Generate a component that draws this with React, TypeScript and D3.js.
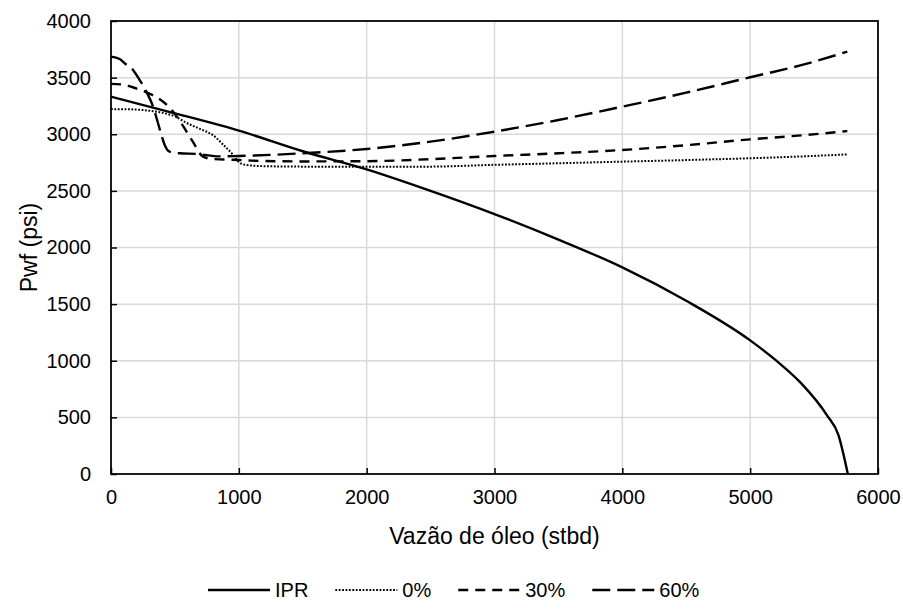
import { useEffect, useRef } from "react";
import * as d3 from "d3";

// IPR curve
const iprQ = [0, 500, 1000, 1500, 2000, 2500, 3000, 3500, 4000, 4500, 5000, 5200, 5400, 5600, 5690, 5764];
const iprP = [3332, 3185, 3032, 2850, 2690, 2500, 2295, 2070, 1825, 1530, 1180, 1005, 800, 520, 346, 0];

// TPR 0%
const tpr0Q = [0, 150, 300, 400, 500, 600, 700, 800, 880, 950, 1000, 1060, 1200, 1500, 2000, 2500, 3000, 3500, 4000, 4500, 5000, 5400, 5760];
const tpr0P = [3222, 3220, 3208, 3190, 3158, 3095, 3045, 2990, 2905, 2825, 2755, 2728, 2718, 2714, 2712, 2714, 2730, 2744, 2758, 2772, 2788, 2804, 2822];

// TPR 30%
const tpr30Q = [0, 100, 170, 290, 370, 485, 550, 640, 720, 800, 1000, 1100, 1500, 2000, 2500, 3000, 3500, 4000, 4500, 5000, 5400, 5760];
const tpr30P = [3445, 3437, 3415, 3364, 3318, 3200, 3097, 2935, 2802, 2781, 2773, 2767, 2760, 2762, 2780, 2808, 2832, 2861, 2903, 2955, 2990, 3028];

// TPR 60%
const tpr60Q = [0, 68, 107, 172, 224, 277, 329, 368, 394, 420, 459, 537, 670, 850, 1000, 1500, 2000, 2500, 3000, 3500, 4000, 4500, 5000, 5400, 5760];
const tpr60P = [3685, 3664, 3627, 3567, 3479, 3376, 3244, 3097, 2993, 2905, 2846, 2832, 2826, 2805, 2808, 2832, 2870, 2935, 3023, 3126, 3244, 3367, 3503, 3610, 3729];

const xTicks = [0, 1000, 2000, 3000, 4000, 5000, 6000];
const yTicks = [0, 500, 1000, 1500, 2000, 2500, 3000, 3500, 4000];
const seriesNames = ["IPR", "0%", "30%", "60%"];

const App = () => {
  const svgRef = useRef(null);

  useEffect(() => {
    const W = 903,
      H = 610;
    const margin = { top: 21, right: 25, bottom: 136, left: 111 };
    const width = W - margin.left - margin.right;
    const height = H - margin.top - margin.bottom;
    const font = "Arial, 'Liberation Sans', sans-serif";

    const svg = d3.select(svgRef.current);
    svg.selectAll("*").remove();

    const x = d3.scaleLinear().domain([0, 6000]).range([0, width]);
    const y = d3.scaleLinear().domain([0, 4000]).range([height, 0]);

    const g = svg.append("g").attr("transform", `translate(${margin.left},${margin.top})`);

    // gridlines
    g.append("g")
      .selectAll("line")
      .data(xTicks)
      .enter()
      .append("line")
      .attr("x1", (d) => x(d))
      .attr("x2", (d) => x(d))
      .attr("y1", 0)
      .attr("y2", height)
      .attr("stroke", "#d9d9d9")
      .attr("stroke-width", 1.5);

    g.append("g")
      .selectAll("line")
      .data(yTicks)
      .enter()
      .append("line")
      .attr("x1", 0)
      .attr("x2", width)
      .attr("y1", (d) => y(d))
      .attr("y2", (d) => y(d))
      .attr("stroke", "#d9d9d9")
      .attr("stroke-width", 1.5);

    // axes (ticks inside)
    const xAxis = g
      .append("g")
      .attr("transform", `translate(0,${height})`)
      .call(d3.axisBottom(x).tickValues(xTicks).tickFormat(d3.format("d")).tickSizeInner(-6).tickSizeOuter(0).tickPadding(16));
    const yAxis = g
      .append("g")
      .call(d3.axisLeft(y).tickValues(yTicks).tickFormat(d3.format("d")).tickSizeInner(-6).tickSizeOuter(0).tickPadding(20));

    [xAxis, yAxis].forEach((a) => {
      a.select(".domain").remove();
      a.selectAll(".tick line").attr("stroke", "#000").attr("stroke-width", 1.5);
      a.selectAll(".tick text").attr("font-family", font).attr("font-size", 20).attr("fill", "#000");
    });

    // frame
    g.append("rect")
      .attr("x", 0)
      .attr("y", 0)
      .attr("width", width)
      .attr("height", height)
      .attr("fill", "none")
      .attr("stroke", "#000")
      .attr("stroke-width", 1.75);

    const styles = [
      { dash: null, w: 2.4 },
      { dash: "1.8,1.6", w: 2 },
      { dash: "10,7", w: 2.4 },
      { dash: "18,7", w: 2.4 },
    ];

    const series = [
      [iprQ, iprP],
      [tpr0Q, tpr0P],
      [tpr30Q, tpr30P],
      [tpr60Q, tpr60P],
    ];

    const line = d3
      .line()
      .x((d) => x(d[0]))
      .y((d) => y(d[1]))
      .curve(d3.curveMonotoneX);

    series.forEach(([qs, ps], i) => {
      const pts = qs.map((q, j) => [q, ps[j]]);
      g.append("path")
        .datum(pts)
        .attr("fill", "none")
        .attr("stroke", "#000")
        .attr("stroke-width", styles[i].w)
        .attr("stroke-dasharray", styles[i].dash)
        .attr("d", line);
    });

    // axis titles
    svg.append("text")
      .attr("x", margin.left + width / 2)
      .attr("y", 544)
      .attr("text-anchor", "middle")
      .attr("font-family", font)
      .attr("font-size", 23)
      .text("Vazão de óleo (stbd)");

    svg.append("text")
      .attr("transform", `translate(37,${margin.top + height / 2}) rotate(-90)`)
      .attr("text-anchor", "middle")
      .attr("font-family", font)
      .attr("font-size", 23)
      .text("Pwf (psi)");

    // legend
    const legend = svg.append("g").attr("transform", "translate(208,590)");
    let lx = 0;
    seriesNames.forEach((name, i) => {
      legend.append("line")
        .attr("x1", lx)
        .attr("x2", lx + 62)
        .attr("y1", 0)
        .attr("y2", 0)
        .attr("stroke", "#000")
        .attr("stroke-width", styles[i].w)
        .attr("stroke-dasharray", styles[i].dash);
      const t = legend.append("text")
        .attr("x", lx + 67)
        .attr("y", 7)
        .attr("font-family", font)
        .attr("font-size", 20)
        .text(name);
      const tw = t.node().getComputedTextLength();
      lx = lx + 67 + tw + 27;
    });
  }, []);

  return (
    <svg
      ref={svgRef}
      width={903}
      height={610}
      style={{ position: "absolute", left: 0, top: 0, background: "#fff" }}
    ></svg>
  );
};

export default App;
